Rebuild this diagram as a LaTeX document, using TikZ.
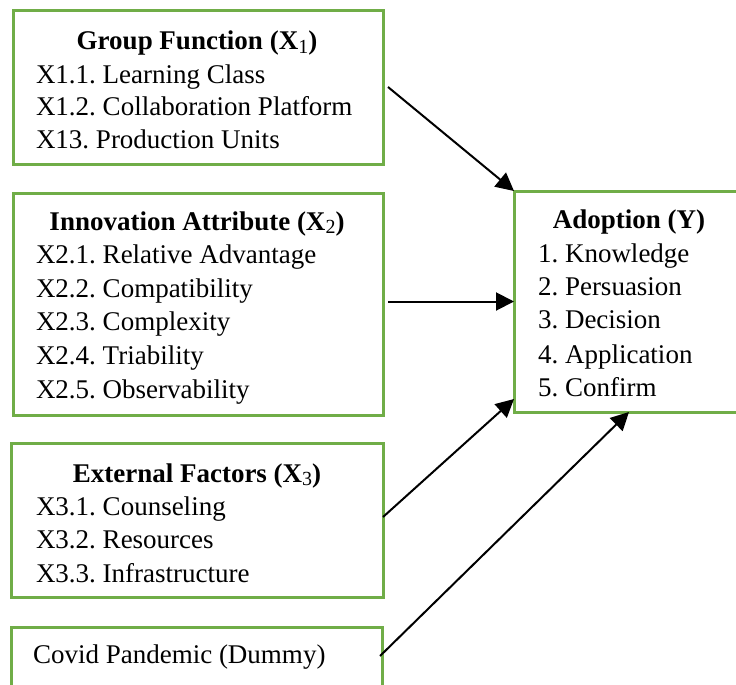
\documentclass[tikz,border=0pt]{standalone}
\usepackage{fontspec}
\setmainfont{Liberation Serif}
\usetikzlibrary{arrows.meta,calc}
\definecolor{boxgreen}{HTML}{70AD47}
\newcommand{\subidx}[1]{\raisebox{-0.14em}{\fontsize{20}{20}\selectfont\mdseries #1}}
\frenchspacing
\begin{document}
\begin{tikzpicture}[x=1pt,y=-1pt,
  box/.style={draw=boxgreen, line width=3pt, rectangle, inner sep=0pt, outer sep=0pt, anchor=north west},
  txt/.style={inner sep=0pt, outer sep=0pt, anchor=base west, font=\fontsize{27}{30}\selectfont},
  ttl/.style={inner sep=0pt, outer sep=0pt, anchor=base, font=\fontsize{27}{30}\selectfont\bfseries},
  conn/.style={draw=black, line width=2pt, -{Triangle[length=18pt,width=18pt]}}]
\useasboundingbox (0,0) rectangle (736,685);
\clip (0,0) rectangle (736,685);
% boxes
\node[box, minimum width=370, minimum height=153] (g) at (13,11) {};
\node[box, minimum width=370, minimum height=222] (i) at (13,193) {};
\node[box, minimum width=372, minimum height=154] (e) at (11,443) {};
\node[box, minimum width=371, minimum height=80] (c) at (11,627) {};
\node[box, minimum width=230, minimum height=221] (a) at (514,191) {};
% box 1
\node[ttl] (gt) at (197,50) {Group Function (X\subidx{1})};
\node[txt] (g1) at (36,83) {X1.1. Learning Class};
\node[txt] (g2) at (36,115) {X1.2. Collaboration Platform};
\node[txt] (g3) at (36,148) {X13. Production Units};
% box 2
\node[ttl] (it) at (197,230) {Innovation Attribute (X\subidx{2})};
\node[txt] (i1) at (36,263) {X2.1. Relative Advantage};
\node[txt] (i2) at (36,297) {X2.2. Compatibility};
\node[txt] (i3) at (36,330) {X2.3. Complexity};
\node[txt] (i4) at (36,364) {X2.4. Triability};
\node[txt] (i5) at (36,398) {X2.5. Observability};
% box 3
\node[ttl] (et) at (197,482) {External Factors (X\subidx{3})};
\node[txt] (e1) at (36,515) {X3.1. Counseling};
\node[txt] (e2) at (36,548) {X3.2. Resources};
\node[txt] (e3) at (36,582) {X3.3. Infrastructure};
% box 4
\node[txt] (c1) at (33,663) {Covid Pandemic (Dummy)};
% adoption
\node[ttl] (at) at (629,228) {Adoption (Y)};
\node[txt] (a1) at (538,262) {1. Knowledge};
\node[txt] (a2) at (538,295) {2. Persuasion};
\node[txt] (a3) at (538,328) {3. Decision};
\node[txt] (a4) at (538,363) {4. Application};
\node[txt] (a5) at (538,396) {5. Confirm};
% connectors
\coordinate (s1) at (388,87);
\coordinate (s2) at (388,302);
\coordinate (s3) at (383,517);
\coordinate (s4) at (380,656);
\coordinate (t3) at (514,399);
\draw[conn] (s1) -- (a.north west);
\draw[conn] (s2 |- a.west) -- (a.west);
\draw[conn] (s3) -- (t3);
\draw[conn] (s4) -- (a.south);
\end{tikzpicture}
\end{document}
